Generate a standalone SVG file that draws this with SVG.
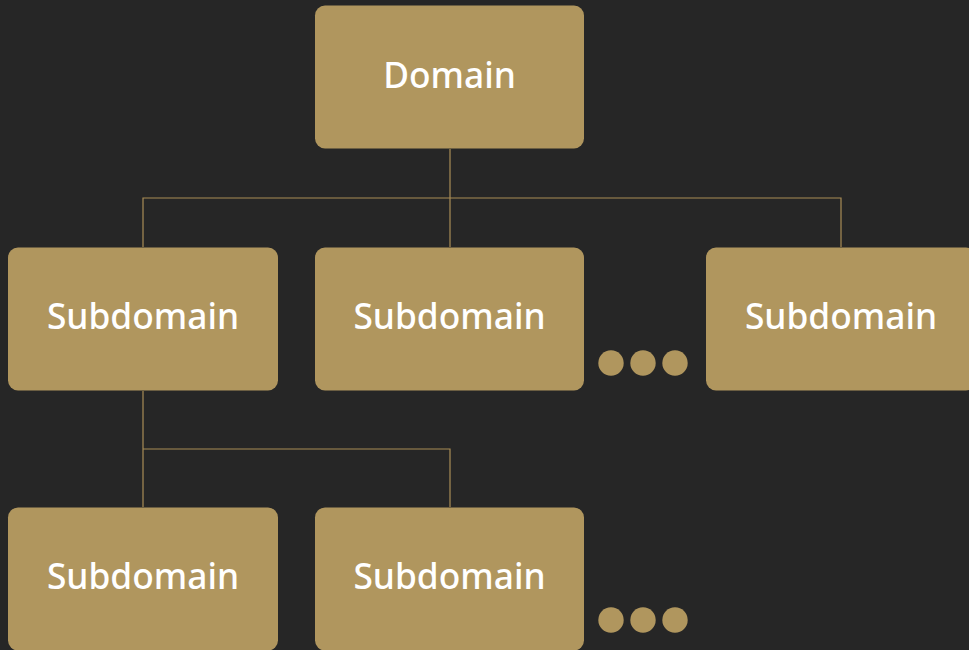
<svg xmlns="http://www.w3.org/2000/svg" width="969" height="650" viewBox="0 0 969 650">
  <style>
    .box { fill: #b0965e; }
    .label { fill: #ffffff; font-family: "Noto Sans", "Open Sans", "Liberation Sans", sans-serif; font-size: 35.3px; font-weight: 500; text-anchor: middle; }
    .link { fill: none; stroke: #a88c55; stroke-width: 1.2; }
    .dot { fill: #b0965e; }
  </style>
  <rect width="969" height="650" fill="#262626"/>

  <g id="connectors">
    <path class="link" d="M450 149 V198 M143 247 V198 H841 V247 M450 198 V247"/>
    <path class="link" d="M143 391 V507 M143 449 H450 V507"/>
  </g>

  <g id="domain">
    <rect class="box" x="315" y="5.5" width="269" height="143" rx="10"/>
    <text class="label" x="449.5" y="87.5">Domain</text>
  </g>

  <g id="subdomain-1">
    <rect class="box" x="8" y="247.5" width="270" height="143" rx="10"/>
    <text class="label" x="143" y="328.5">Subdomain</text>
  </g>

  <g id="subdomain-2">
    <rect class="box" x="315" y="247.5" width="269" height="143" rx="10"/>
    <text class="label" x="449.5" y="328.5">Subdomain</text>
  </g>

  <g id="subdomain-3">
    <rect class="box" x="706" y="247.5" width="270" height="143" rx="10"/>
    <text class="label" x="841" y="328.5">Subdomain</text>
  </g>

  <g id="more-1">
    <circle class="dot" cx="611" cy="363" r="12.7"/>
    <circle class="dot" cx="643" cy="363" r="12.7"/>
    <circle class="dot" cx="675" cy="363" r="12.7"/>
  </g>

  <g id="subdomain-4">
    <rect class="box" x="8" y="507.5" width="270" height="143" rx="10"/>
    <text class="label" x="143" y="588.5">Subdomain</text>
  </g>

  <g id="subdomain-5">
    <rect class="box" x="315" y="507.5" width="269" height="143" rx="10"/>
    <text class="label" x="449.5" y="588.5">Subdomain</text>
  </g>

  <g id="more-2">
    <circle class="dot" cx="611" cy="620" r="12.7"/>
    <circle class="dot" cx="643" cy="620" r="12.7"/>
    <circle class="dot" cx="675" cy="620" r="12.7"/>
  </g>
</svg>
